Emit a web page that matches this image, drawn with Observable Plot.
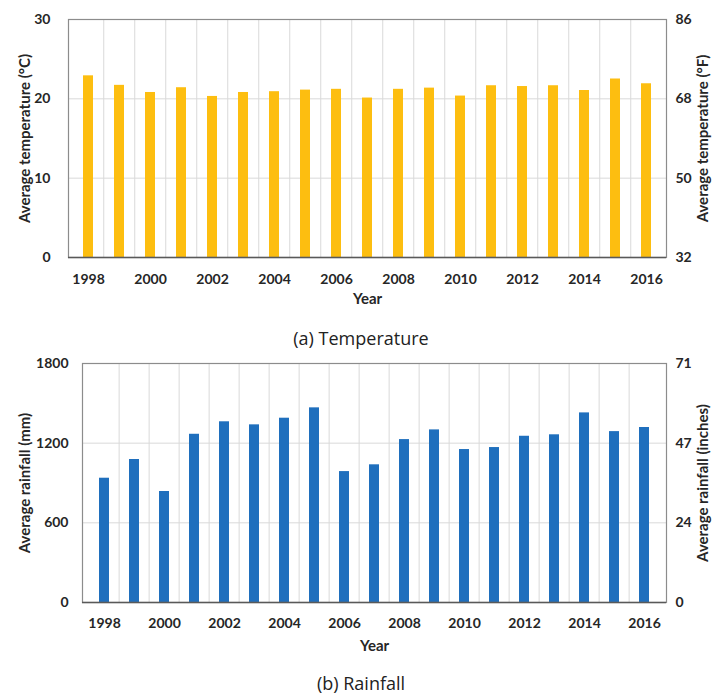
<!DOCTYPE html>
<html>
<head>
<meta charset="utf-8">
<script src="https://cdn.jsdelivr.net/npm/d3@7"></script>
<script src="https://cdn.jsdelivr.net/npm/@observablehq/plot@0.6"></script>
<style>
  html, body { margin: 0; padding: 0; background: #fff; }
  #wrap { position: relative; width: 722px; height: 694px; font-family: Lato, "Open Sans", sans-serif; }
  .panel { position: absolute; left: 0; z-index: 1; }
  .cap { position: absolute; left: 0; width: 722px; text-align: center; font-size: 18px; line-height: 24px; color: #222; font-family: "Open Sans", Lato, sans-serif; z-index: 2; }
</style>
</head>
<body>
<div id="wrap">
  <div id="top" class="panel" style="top:0px"></div>
  <div id="bot" class="panel" style="top:345px"></div>
  <div class="cap" style="top:326px">(a) Temperature</div>
  <div class="cap" style="top:671px">(b) Rainfall</div>
</div>
<script>
const years = [1998,1999,2000,2001,2002,2003,2004,2005,2006,2007,2008,2009,2010,2011,2012,2013,2014,2015,2016];
const temperatureC = [22.9,21.7,20.8,21.4,20.3,20.8,20.9,21.1,21.2,20.1,21.2,21.35,20.35,21.65,21.55,21.65,21.05,22.5,21.9];
const rainfallMm = [936,1077,836,1267,1361,1338,1388,1466,986,1037,1227,1300,1152,1167,1252,1263,1428,1287,1318];
const yearTicks = [1998,2000,2002,2004,2006,2008,2010,2012,2014,2016];
const tempTicksC = [0,10,20,30];
const rainTicksMm = [0,600,1200,1800];

const tempData = years.map((y, i) => ({year: y, value: temperatureC[i]}));
const rainData = years.map((y, i) => ({year: y, value: rainfallMm[i]}));

const FONT = "Lato, 'Open Sans', sans-serif";

function panel({data, color, yDomain, yTicks, rightFormat, leftLabel, rightLabel, height, m, leftPad, xPad, yearDy, leftTitleDx, rightTitleDx}) {
  const width = 722;
  const step = (width - m.left - m.right) / years.length;
  return Plot.plot({
    width, height,
    marginTop: m.top, marginBottom: m.bottom, marginLeft: m.left, marginRight: m.right,
    style: {fontFamily: FONT, fontSize: "14px", fontWeight: "bold", color: "#262626", background: "transparent", overflow: "visible"},
    x: {type: "band", domain: years, paddingInner: 0.68, paddingOuter: 0.34, axis: null},
    y: {domain: yDomain, axis: null},
    marks: [
      Plot.ruleY(yTicks.slice(1, -1), {stroke: "#d9d9d9", strokeWidth: 1}),
      Plot.ruleX(years.slice(1), {x: d => d, dx: -step / 2, stroke: "#d9d9d9", strokeWidth: 1}),
      Plot.barY(data, {x: "year", y: "value", fill: color}),
      Plot.frame({stroke: "#8c8c8c", strokeWidth: 1.2}),
      Plot.ruleY([yDomain[0]], {stroke: "#595959", strokeWidth: 1.5}),
      Plot.axisX({ticks: yearTicks, tickSize: 0, tickPadding: xPad, label: null, tickFormat: d => String(d), fontSize: 14, fontWeight: "bold"}),
      Plot.axisY({anchor: "left", ticks: yTicks, tickSize: 0, tickPadding: leftPad, label: null, tickFormat: d => String(d)}),
      Plot.axisY({anchor: "right", ticks: yTicks, tickSize: 0, tickPadding: 9, label: null, tickFormat: rightFormat}),
      Plot.text([leftLabel], {frameAnchor: "left", textAnchor: "middle", rotate: -90, dx: leftTitleDx, fontSize: 15, fontWeight: "bold", fill: "#262626"}),
      Plot.text([rightLabel], {frameAnchor: "right", textAnchor: "middle", rotate: -90, dx: rightTitleDx, fontSize: 15, fontWeight: "bold", fill: "#262626"}),
      Plot.text(["Year"], {frameAnchor: "bottom", dy: yearDy, fontSize: 15, fontWeight: "bold", fill: "#262626"})
    ]
  });
}

document.getElementById("top").append(panel({
  data: tempData, color: "#fdbe10", yDomain: [0, 30], yTicks: tempTicksC,
  rightFormat: d => String(Math.round(d * 9 / 5 + 32)),
  leftLabel: "Average temperature (°C)", rightLabel: "Average temperature (°F)",
  height: 312, m: {top: 19, bottom: 55, left: 68, right: 56}, leftPad: 18, xPad: 17, yearDy: 46,
  leftTitleDx: -43, rightTitleDx: 37
}));

document.getElementById("bot").append(panel({
  data: rainData, color: "#1f6fbd", yDomain: [0, 1800], yTicks: rainTicksMm,
  rightFormat: d => String(Math.round(d / 25.4)),
  leftLabel: "Average rainfall (mm)", rightLabel: "Average rainfall (inches)",
  height: 310, m: {top: 18, bottom: 53, left: 82, right: 56}, leftPad: 14, xPad: 16, yearDy: 48,
  leftTitleDx: -57, rightTitleDx: 37
}));
</script>
</body>
</html>
